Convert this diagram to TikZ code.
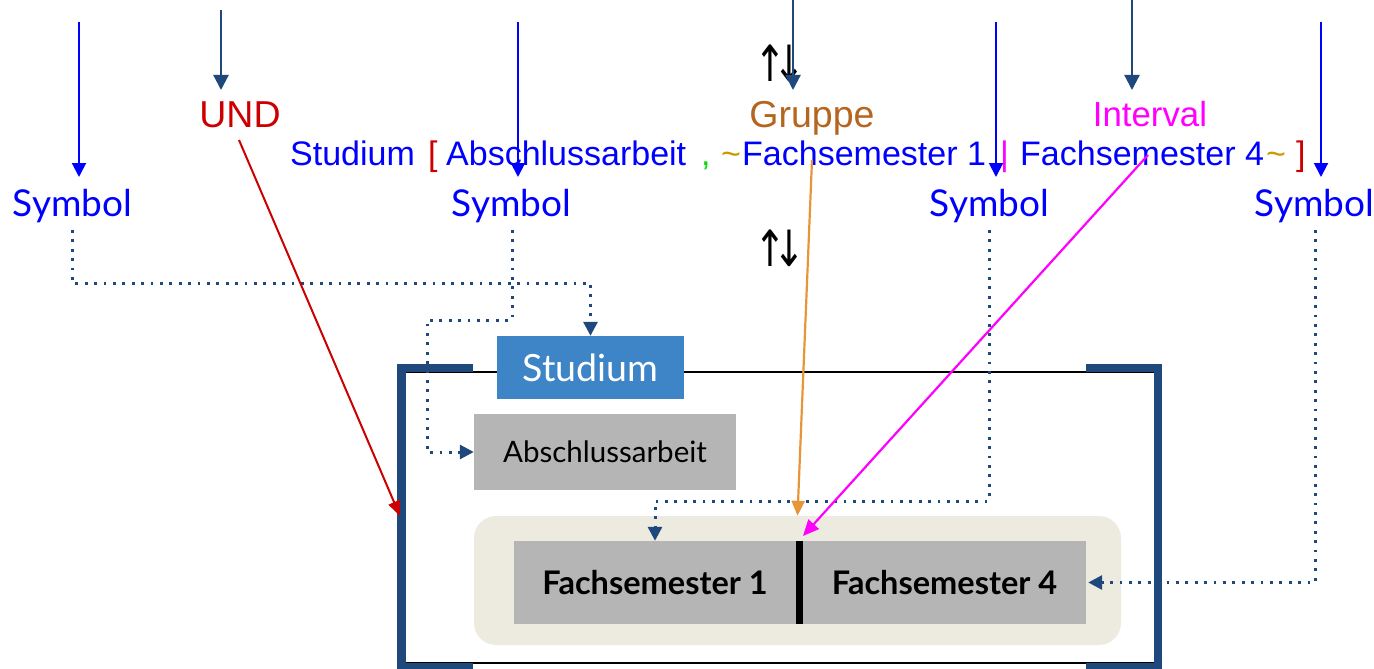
\documentclass[tikz,border=0pt]{standalone}
\usepackage{graphicx}
\usepackage{fontspec}
\setmainfont{Lato}
\newfontfamily\arialf{Liberation Sans}
\newfontfamily\djv{DejaVu Sans}
\usetikzlibrary{arrows.meta}
\definecolor{dblue}{HTML}{1F497D}
\definecolor{pblue}{HTML}{0000FF}
\definecolor{ured}{HTML}{CC0000}
\definecolor{gbrown}{HTML}{B5651D}
\definecolor{oarrow}{HTML}{E8953A}
\definecolor{mag}{HTML}{FF00FF}
\definecolor{cgreen}{HTML}{00DD00}
\definecolor{gold}{HTML}{C89B00}
\definecolor{studblue}{HTML}{3D85C6}
\definecolor{gbox}{HTML}{B5B5B5}
\definecolor{beige}{HTML}{EDEBE0}
\tikzset{
  bluearr/.style={draw=pblue, line width=2pt, -{Triangle[length=14pt,width=14pt]}},
  darr/.style={draw=dblue, line width=2.2pt, -{Triangle[length=15pt,width=15pt]}},
  dotarr/.style={draw=dblue, line width=3pt, dash pattern=on 2.8pt off 6.6pt, -{Triangle[length=14pt,width=14pt]}},
  symlbl/.style={text=pblue, font=\fontsize{37}{40}\selectfont, inner sep=0pt, anchor=base},
  ar/.style={font=\arialf\fontsize{34}{40}\selectfont, inner sep=0pt, anchor=base west},
  toplbl/.style={font=\arialf\fontsize{37.5}{40}\selectfont, inner sep=0pt, anchor=base},
  graybox/.style={fill=gbox, inner sep=0pt},
  bracketline/.style={draw=dblue, line width=8.5pt},
  updown/.style={inner sep=0pt, font=\djv\fontsize{40}{48}\selectfont},
}
\newcommand{\udarrows}{\scalebox{0.95}[1.25]{↑\kern-14pt↓}}
\begin{document}
\begin{tikzpicture}[x=1pt,y=-1pt]
\useasboundingbox (0,0) rectangle (1374,669);
% outer frame
\node[draw=black, line width=1.5pt, minimum width=757pt, minimum height=291pt, inner sep=0pt] (outer) at (779.5,517.5) {};
\draw[bracketline] (473,368) -- (401.5,368) -- (401.5,667) -- (473,667);
\draw[bracketline] (1086,368) -- (1158,368) -- (1158,667) -- (1086,667);
% boxes
\node[fill=studblue, text=white, minimum width=187pt, minimum height=63pt, inner sep=0pt, font=\fontsize{37.5}{40}\selectfont] (stud) at (590.5,367.5) {Studium};
\node[graybox, minimum width=262pt, minimum height=76pt, font=\fontsize{29.5}{32}\selectfont] (absch) at (605,452) {Abschlussarbeit};
\node[fill=beige, rounded corners=22pt, minimum width=647pt, minimum height=129pt, inner sep=0pt] (grp) at (797.5,580.5) {};
\node[graybox, minimum width=282pt, minimum height=83pt, font=\bfseries\fontsize{32.5}{34}\selectfont] (fs1) at (655,582.5) {Fachsemester 1};
\node[graybox, minimum width=283pt, minimum height=83pt, font=\bfseries\fontsize{32.5}{34}\selectfont] (fs4) at (944.5,582.5) {Fachsemester 4};
\draw[line width=7pt] ([xshift=3.5pt]fs1.north east) -- ([xshift=3.5pt]fs1.south east);
% top labels
\node[toplbl, text=ured] (und) at (240,128) {UND};
\node[toplbl, text=gbrown] (gruppe) at (812,127) {Gruppe};
\node[toplbl, text=mag, font=\arialf\fontsize{34.8}{40}\selectfont] (interval) at (1150,126) {Interval};
% expression line
\node[ar, text=pblue] (e1) at (290,165) {Studium};
\node[ar, text=ured] (e2) at (428,165) {[};
\node[ar, text=pblue] (e3) at (446,165) {Abschlussarbeit};
\node[ar, text=cgreen] (e4) at (701,165) {,};
\node[ar, text=gold] (e5) at (721,165) {\textasciitilde};
\node[ar, text=pblue] (e6) at (742,165) {Fachsemester 1};
\node[ar, text=mag] (e7) at (1000,165) {|};
\node[ar, text=pblue] (e8) at (1020,165) {Fachsemester 4};
\node[ar, text=gold] (e9) at (1266,165) {\textasciitilde};
\node[ar, text=ured] (e10) at (1296,165) {]};
% symbols
\node[symlbl] (s1) at (72.5,216) {Symbol};
\node[symlbl] (s2) at (511.5,216) {Symbol};
\node[symlbl] (s3) at (989.5,216) {Symbol};
\node[symlbl] (s4) at (1314.5,216) {Symbol};
% up-down
\node[updown] (ud1) at (780,63) {\udarrows};
\node[updown] (ud2) at (780,248) {\udarrows};
% top arrows
\coordinate (b1a) at (79,22); \coordinate (b1b) at (79,177);
\coordinate (b2a) at (518,22); \coordinate (b2b) at (518,177);
\coordinate (b3a) at (996,22); \coordinate (b3b) at (996,177);
\coordinate (b4a) at (1321,22); \coordinate (b4b) at (1321,177);
\draw[bluearr] (b1a) -- (b1b);
\draw[bluearr] (b2a) -- (b2b);
\draw[bluearr] (b3a) -- (b3b);
\draw[bluearr] (b4a) -- (b4b);
\coordinate (d1a) at (221,10); \coordinate (d1b) at (221,90);
\coordinate (d2a) at (793,0); \coordinate (d2b) at (793,90);
\coordinate (d3a) at (1132,0); \coordinate (d3b) at (1132,90);
\draw[darr] (d1a) -- (d1b);
\draw[darr] (d2a) -- (d2b);
\draw[darr] (d3a) -- (d3b);
% dotted connectors
\coordinate (s1d) at (72,230);
\coordinate (s2d) at (512,230);
\coordinate (s3d) at (989,230);
\coordinate (s4d) at (1315,230);
\draw[dotarr] (s1d) -- (72,283) -| (stud.north);
\draw[dotarr] (s2d) -- (512,320) -- (427,320) |- (absch.west);
\draw[dotarr] (s3d) -- (989,501) -| (fs1.north);
\draw[dotarr] (s4d) |- ([xshift=2pt]fs4.east);
% coloured arrows
\coordinate (r0) at (239,140); \coordinate (r1) at (400,516);
\draw[draw=ured, line width=2pt, -{Triangle[length=15pt,width=12pt]}] (r0) -- (r1);
\coordinate (o0) at (812,160);
\draw[draw=oarrow, line width=2.2pt, -{Triangle[length=15pt,width=13pt]}] (o0) -- (grp.north);
\coordinate (m0) at (1148,155); \coordinate (m1) at (803,536);
\draw[draw=mag, line width=2.2pt, -{Triangle[length=16pt,width=14pt]}] (m0) -- (m1);
\end{tikzpicture}
\end{document}
